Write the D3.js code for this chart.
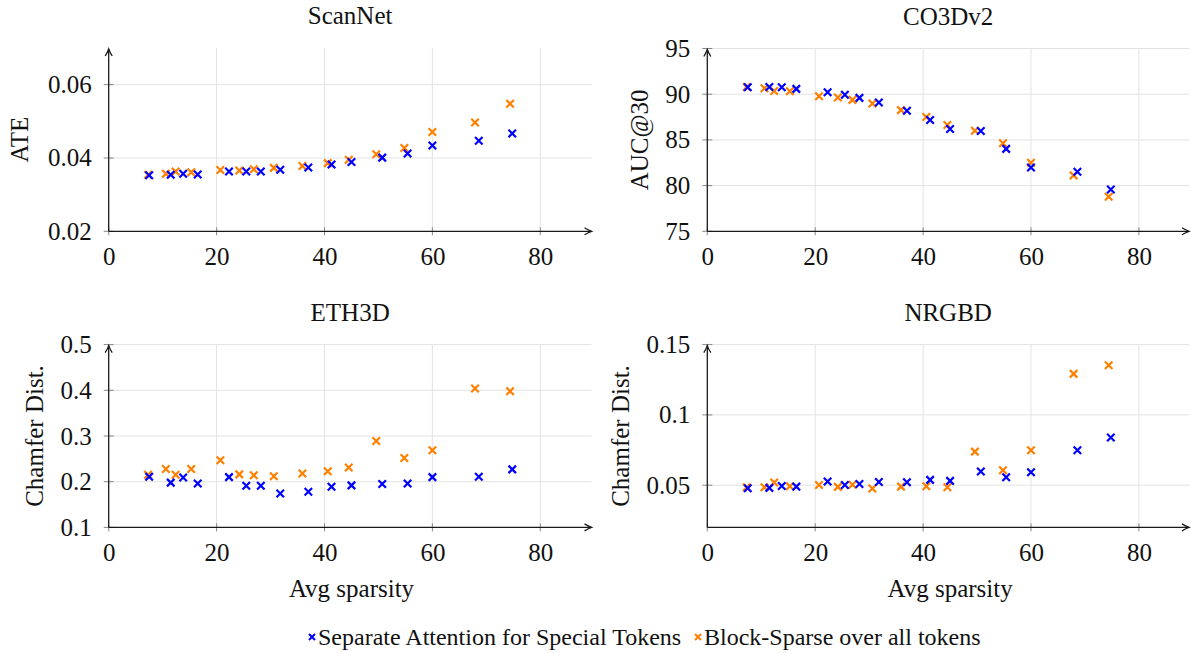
<!DOCTYPE html>
<html>
<head>
<meta charset="utf-8">
<script src="https://cdn.jsdelivr.net/npm/d3@7"></script>
<style>
  html, body { margin: 0; padding: 0; background: #fff; }
  svg { display: block; }
  svg text { font-family: "Liberation Serif", "Times New Roman", serif !important; fill: #111; }
</style>
</head>
<body>
<svg id="chart" width="1191" height="653"></svg>
<script>
// Average sparsity (%) of each run, per method
const sparsitySeparate = [7.5, 11.5, 13.8, 16.5, 22.3, 25.5, 28.2, 31.8, 37.0, 41.3, 45.0, 50.7, 55.4, 60.0, 68.6, 74.8];
const sparsityBlock    = [7.3, 10.6, 12.4, 15.3, 20.7, 24.2, 26.9, 30.6, 35.9, 40.6, 44.5, 49.6, 54.8, 60.0, 67.9, 74.4];

// ScanNet ATE
const scannetSeparate = [0.0353, 0.0354, 0.0357, 0.0355, 0.0363, 0.0363, 0.0363, 0.0368, 0.0374, 0.0382, 0.0389, 0.0401, 0.0412, 0.0434, 0.0447, 0.0467];
const scannetBlock    = [0.0354, 0.0357, 0.0363, 0.0361, 0.0367, 0.0366, 0.0369, 0.0373, 0.0378, 0.0386, 0.0395, 0.0410, 0.0427, 0.0471, 0.0497, 0.0548];

// CO3Dv2 AUC@30
const co3dSeparate = [90.76, 90.79, 90.76, 90.58, 90.22, 89.93, 89.60, 89.10, 88.19, 87.17, 86.20, 85.98, 84.02, 81.99, 81.52, 79.57];
const co3dBlock    = [90.79, 90.65, 90.36, 90.33, 89.78, 89.64, 89.38, 88.99, 88.26, 87.50, 86.63, 86.01, 84.64, 82.50, 81.12, 78.77];

// ETH3D Chamfer distance
const eth3dSeparate = [0.211, 0.198, 0.209, 0.196, 0.210, 0.191, 0.191, 0.174, 0.178, 0.189, 0.192, 0.195, 0.196, 0.210, 0.211, 0.227];
const eth3dBlock    = [0.215, 0.228, 0.215, 0.228, 0.247, 0.216, 0.214, 0.212, 0.218, 0.223, 0.231, 0.289, 0.252, 0.269, 0.404, 0.398];

// NRGBD Chamfer distance
const nrgbdSeparate = [0.0479, 0.0481, 0.0495, 0.0490, 0.0526, 0.0502, 0.0509, 0.0523, 0.0521, 0.0538, 0.0531, 0.0597, 0.0557, 0.0592, 0.0749, 0.0839];
const nrgbdBlock    = [0.0486, 0.0486, 0.0519, 0.0493, 0.0502, 0.0488, 0.0504, 0.0476, 0.0490, 0.0493, 0.0486, 0.0739, 0.0607, 0.0749, 0.1292, 0.1353];

// Axis ticks and labels
const xTicks = [0, 20, 40, 60, 80];
const xDomain = [0, 90];
const scannetTicks = [0.02, 0.04, 0.06];
const co3dTicks = [75, 80, 85, 90, 95];
const eth3dTicks = [0.1, 0.2, 0.3, 0.4, 0.5];
const nrgbdTicks = [0.05, 0.1, 0.15];
const panelTitles = ["ScanNet", "CO3Dv2", "ETH3D", "NRGBD"];
const yLabels = ["ATE", "AUC@30", "Chamfer Dist.", "Chamfer Dist."];
const xLabel = "Avg sparsity";
const seriesNames = ["Separate Attention for Special Tokens", "Block-Sparse over all tokens"];
const seriesColors = ["#0000ff", "#ff8000"];

const FONT = "'Liberation Serif', 'Times New Roman', serif";

const panels = [
  { title: panelTitles[0], ylabel: yLabels[0], sep: scannetSeparate, blk: scannetBlock, yDomain: [0.02, 0.07], ticks: scannetTicks, fmt: d3.format(".2f"),
    left: 108.7, top: 48, bottom: 231.3, ylabelX: 19, showX: false },
  { title: panelTitles[1], ylabel: yLabels[1], sep: co3dSeparate, blk: co3dBlock, yDomain: [75, 95], ticks: co3dTicks, fmt: d3.format("d"),
    left: 707.3, top: 48.5, bottom: 231.3, ylabelX: 639, showX: false },
  { title: panelTitles[2], ylabel: yLabels[2], sep: eth3dSeparate, blk: eth3dBlock, yDomain: [0.1, 0.5], ticks: eth3dTicks, fmt: d3.format(".1f"),
    left: 108.7, top: 344.6, bottom: 527.4, ylabelX: 34, showX: true },
  { title: panelTitles[3], ylabel: yLabels[3], sep: nrgbdSeparate, blk: nrgbdBlock, yDomain: [0.02, 0.15], ticks: nrgbdTicks, fmt: v => d3.format(".2~f")(v),
    left: 707.3, top: 344.6, bottom: 527.4, ylabelX: 620, showX: true }
];

const svg = d3.select("#chart");
const PX_PER_20 = 107.9;

function crossPath(size) {
  const h = size / 2;
  return `M${-h},${-h}L${h},${h}M${-h},${h}L${h},${-h}`;
}

panels.forEach(p => {
  const g = svg.append("g");
  const x = d3.scaleLinear().domain(xDomain).range([p.left, p.left + PX_PER_20 * 4.5]);
  const y = d3.scaleLinear().domain(p.yDomain).range([p.bottom, p.top]);
  const xEnd = Math.min(x(89.5), 1189);

  // grid
  g.append("g").selectAll("line").data(xTicks.filter(d => d > 0)).join("line")
    .attr("x1", d => x(d)).attr("x2", d => x(d))
    .attr("y1", p.bottom).attr("y2", p.top)
    .attr("stroke", "#e3e3e3").attr("stroke-width", 1);
  g.append("g").selectAll("line").data(p.ticks.filter(d => d > p.yDomain[0])).join("line")
    .attr("x1", p.left).attr("x2", xEnd)
    .attr("y1", d => y(d)).attr("y2", d => y(d))
    .attr("stroke", "#e3e3e3").attr("stroke-width", 1);

  // x axis tick labels
  const xAxis = d3.axisBottom(x).tickValues(xTicks).tickSize(0).tickPadding(0).tickFormat(d3.format("d"));
  const xa = g.append("g").attr("transform", `translate(0,${p.bottom})`).call(xAxis)
    .attr("font-family", FONT);
  xa.select(".domain").remove();
  xa.selectAll("text").style("font-family", FONT).attr("font-size", 25)
    .attr("fill", "#111").attr("dy", null).attr("y", 34);
  // x tick marks
  g.append("g").selectAll("line").data(xTicks).join("line")
    .attr("x1", d => x(d)).attr("x2", d => x(d))
    .attr("y1", p.bottom - 4).attr("y2", p.bottom + 4)
    .attr("stroke", "#888").attr("stroke-width", 1);

  // y axis tick labels
  const yAxis = d3.axisLeft(y).tickValues(p.ticks).tickSize(0).tickPadding(17).tickFormat(p.fmt);
  const ya = g.append("g").attr("transform", `translate(${p.left},0)`).call(yAxis)
    .attr("font-family", FONT);
  ya.select(".domain").remove();
  ya.selectAll("text").style("font-family", FONT).attr("font-size", 25).attr("fill", "#111");
  g.append("g").selectAll("line").data(p.ticks).join("line")
    .attr("x1", p.left - 5).attr("x2", p.left + 5)
    .attr("y1", d => y(d)).attr("y2", d => y(d))
    .attr("stroke", "#888").attr("stroke-width", 1);

  // axis lines with arrow heads
  const axisColor = "#1a1a1a";
  g.append("line").attr("x1", p.left).attr("x2", xEnd).attr("y1", p.bottom).attr("y2", p.bottom)
    .attr("stroke", axisColor).attr("stroke-width", 1.3);
  g.append("line").attr("x1", p.left).attr("x2", p.left).attr("y1", p.bottom).attr("y2", p.top + 1)
    .attr("stroke", axisColor).attr("stroke-width", 1.3);
  g.append("path").attr("d", `M${xEnd - 7},${p.bottom - 3.5}Q${xEnd - 3},${p.bottom - 1} ${xEnd},${p.bottom}Q${xEnd - 3},${p.bottom + 1} ${xEnd - 7},${p.bottom + 3.5}`)
    .attr("fill", "none").attr("stroke", axisColor).attr("stroke-width", 1.3);
  g.append("path").attr("d", `M${p.left - 3.5},${p.top + 8}Q${p.left - 1},${p.top + 4} ${p.left},${p.top + 1}Q${p.left + 1},${p.top + 4} ${p.left + 3.5},${p.top + 8}`)
    .attr("fill", "none").attr("stroke", axisColor).attr("stroke-width", 1.3);

  // title
  g.append("text").attr("x", (p.left + xEnd) / 2).attr("y", p.top - 24)
    .attr("text-anchor", "middle").attr("font-size", 25).style("font-family", FONT).text(p.title);

  // y label
  g.append("text").attr("transform", `translate(${p.ylabelX},${(p.top + p.bottom) / 2}) rotate(-90)`)
    .attr("text-anchor", "middle").attr("dominant-baseline", "central")
    .attr("font-size", 25).style("font-family", FONT).text(p.ylabel);

  // x label
  if (p.showX) {
    g.append("text").attr("x", x(40) + 27).attr("y", p.bottom + 70)
      .attr("text-anchor", "middle").attr("font-size", 25).style("font-family", FONT).text(xLabel);
  }

  // markers: Block-Sparse first, Separate on top
  const sets = [
    { xs: sparsityBlock, ys: p.blk, color: seriesColors[1] },
    { xs: sparsitySeparate, ys: p.sep, color: seriesColors[0] }
  ];
  sets.forEach(s => {
    g.append("g").selectAll("path").data(s.ys).join("path")
      .attr("d", crossPath(7.5))
      .attr("transform", (d, i) => `translate(${x(s.xs[i])},${y(d)})`)
      .attr("stroke", s.color).attr("stroke-width", 2.2).attr("fill", "none");
  });
});

// legend
const legend = svg.append("g");
const legendItems = [
  { name: seriesNames[0], color: seriesColors[0], x: 312 },
  { name: seriesNames[1], color: seriesColors[1], x: 698 }
];
legendItems.forEach(it => {
  legend.append("path").attr("d", crossPath(6))
    .attr("transform", `translate(${it.x},637)`)
    .attr("stroke", it.color).attr("stroke-width", 2).attr("fill", "none");
  legend.append("text").attr("x", it.x + 6).attr("y", 645)
    .attr("font-size", 24).style("font-family", FONT).text(it.name);
});
</script>
</body>
</html>
